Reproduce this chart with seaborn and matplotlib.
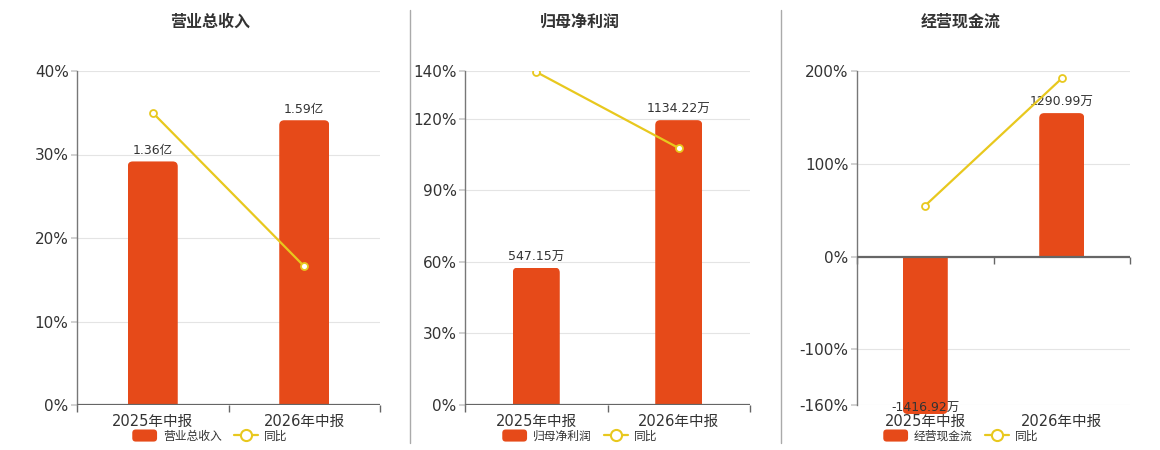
import numpy as np
import pandas as pd
import matplotlib
matplotlib.use("Agg")
import matplotlib.pyplot as plt
from matplotlib.patches import FancyBboxPatch, Rectangle, Patch
from matplotlib.legend_handler import HandlerPatch
from matplotlib.lines import Line2D
import seaborn as sns

# data
periods = ["2025年中报", "2026年中报"]
titles = ["营业总收入", "归母净利润", "经营现金流"]
units = ["亿", "万", "万"]

revenue = [1.36, 1.59]            # 亿
revenue_yoy = [35.0, 16.6]        # %
profit = [547.15, 1134.22]        # 万
profit_yoy = [139.6, 107.7]
cashflow = [-1416.92, 1290.99]    # 万
cashflow_yoy = [55.0, 192.0]

pct_ticks = [[0, 10, 20, 30, 40],
             [0, 30, 60, 90, 120, 140],
             [-160, -100, 0, 100, 200]]

# hidden bar-axis ranges (aligned with the percent axis)
bar_lims = [(0, 1.865), (0, 1330), (-1336, 1670)]

BAR = "#e64a19"
LINE = "#e8c81e"
TXT = "#333333"

sns.set_theme(style="white")
plt.rcParams["font.family"] = ["DejaVu Sans", "Noto Sans CJK SC"]

fig = plt.figure(figsize=(11.6, 4.5), dpi=100)

rects = [(77, 380), (465, 750), (857, 1130)]
title_x = [210, 580, 961]
W, H = 1160, 450
top_px, bot_px = 71, 405

bar_vals = [revenue, profit, cashflow]
yoy_vals = [revenue_yoy, profit_yoy, cashflow_yoy]


def round_bars(bx, radius_px):
    fig.canvas.draw()
    bb = bx.get_window_extent()
    x0, x1 = bx.get_xlim()
    y0, y1 = bx.get_ylim()
    xppu = bb.width / (x1 - x0)
    yppu = bb.height / (y1 - y0)
    rx = radius_px / xppu
    ry = radius_px / yppu
    for p in list(bx.patches):
        x, w, h = p.get_x(), p.get_width(), p.get_height()
        y = p.get_y()
        lo, hi = min(y, y + h), max(y, y + h)
        if h >= 0:
            lo_ext, hi_ext = lo - 2 * ry, hi
        else:
            lo_ext, hi_ext = lo, hi + 2 * ry
        fb = FancyBboxPatch((x, lo_ext), w, hi_ext - lo_ext,
                            boxstyle=f"round,pad=0,rounding_size={rx}",
                            mutation_aspect=xppu / yppu,
                            facecolor=BAR, edgecolor="none", zorder=2)
        bx.add_patch(fb)
        clip = Rectangle((x, lo), w, hi - lo, transform=bx.transData)
        fb.set_clip_path(clip)
        p.remove()


def round_patch(legend, orig_handle, xdescent, ydescent, width, height, fontsize):
    return FancyBboxPatch((-xdescent, -ydescent), width, height,
                          boxstyle="round,pad=0,rounding_size=2.5")


for i in range(3):
    l, r = rects[i]
    ax = fig.add_axes([l / W, 1 - bot_px / H, (r - l) / W, (bot_px - top_px) / H])
    bx = ax.twinx()
    lx = ax.twinx()

    ticks = pct_ticks[i]
    ax.set_ylim(ticks[0], ticks[-1])
    ax.set_yticks(ticks)
    ax.set_yticklabels([f"{t}%" for t in ticks], fontsize=11, color=TXT)
    ax.yaxis.grid(True, color="#e4e4e4", lw=0.8)
    ax.tick_params(axis="y", length=4, color="#cccccc", pad=2, left=True)
    for s in ["top", "right"]:
        ax.spines[s].set_visible(False)
    ax.spines["left"].set_color("#777777")
    ax.spines["left"].set_linewidth(1)
    ax.spines["bottom"].set_position(("data", 0))
    ax.spines["bottom"].set_visible(False)

    df = pd.DataFrame({"period": periods, "value": bar_vals[i]})
    sns.barplot(data=df, x="period", y="value", ax=bx, color=BAR,
                width=0.33, saturation=1)
    bx.set_ylim(*bar_lims[i])

    sns.lineplot(x=[0, 1], y=yoy_vals[i], ax=lx, color=LINE, lw=1.6,
                 marker="o", markersize=5, markerfacecolor="white",
                 markeredgecolor=LINE, markeredgewidth=1.3, zorder=5)
    lx.set_ylim(ticks[0], ticks[-1])
    lx.axhline(0, color="#666666", lw=1.6, zorder=4)

    for a in (ax, bx, lx):
        a.set_xlim(-0.5, 1.5)
    bx.axis("off")
    lx.axis("off")

    ax.set_xticks([0, 1])
    ax.set_xticklabels([])
    ax.tick_params(axis="x", which="major", length=0, bottom=True)
    ax.set_xticks([-0.5, 0.5, 1.5], minor=True)
    ax.tick_params(axis="x", which="minor", length=5, width=1,
                   color="#666666", direction="out", bottom=True)
    ax.set_xlabel("")
    ax.set_ylabel("")

    for j, name in enumerate(periods):
        ax.text(j, -0.026, name, transform=ax.get_xaxis_transform(),
                ha="center", va="top", fontsize=10.5, color=TXT)

    # value labels
    ylo = bar_lims[i][0]
    for j, v in enumerate(bar_vals[i]):
        txt = f"{v:.2f}{units[i]}"
        if v >= 0:
            bx.annotate(txt, (j, v), xytext=(0, 3), textcoords="offset points",
                        ha="center", va="bottom", fontsize=9, color=TXT,
                        annotation_clip=False, zorder=6)
        else:
            bx.annotate(txt, (j, max(v, ylo)), xytext=(0, 2.5),
                        textcoords="offset points", ha="center", va="top",
                        fontsize=9, color=TXT, annotation_clip=False, zorder=6)

    round_bars(bx, 5)

    fig.text(title_x[i] / W, 1 - 22 / H, titles[i], ha="center", va="center",
             fontsize=11.5, fontweight="heavy", color=TXT)

    handles = [Patch(facecolor=BAR, edgecolor="none"),
               Line2D([0], [0], color=LINE, lw=1.6, marker="o", markersize=8,
                      markerfacecolor="white", markeredgecolor=LINE,
                      markeredgewidth=1.5)]
    fig.legend(handles, [titles[i], "同比"], loc="center",
               bbox_to_anchor=(title_x[i] / W, 1 - 436 / H), ncol=2,
               frameon=False, fontsize=8.5, handlelength=2.1,
               handleheight=1.2, columnspacing=1.0, handletextpad=0.5,
               labelcolor=TXT, handler_map={Patch: HandlerPatch(patch_func=round_patch)})

for xp in (410, 781):
    fig.add_artist(Line2D([xp / W, xp / W], [1 - 443 / H, 1 - 10 / H],
                          color="#aaaaaa", lw=1))

fig.savefig("out.png", dpi=100)
